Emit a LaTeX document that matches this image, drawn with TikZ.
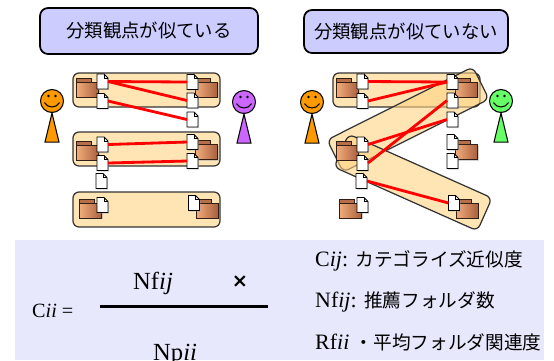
\documentclass[tikz,border=0pt]{standalone}
\usepackage{fontspec}
\setmainfont{Liberation Serif}
\newfontfamily\jp[Scale=0.85]{Noto Sans CJK JP}
\newfontfamily\symf{DejaVu Sans}
\usetikzlibrary{shadows}

\definecolor{titlefill}{RGB}{204,204,255}
\definecolor{panelfill}{RGB}{232,232,252}
\definecolor{groupfill}{RGB}{255,210,130}
\definecolor{folderlight}{RGB}{242,172,122}
\definecolor{folderdark}{RGB}{168,96,62}
\definecolor{folderedge}{RGB}{50,30,20}
\definecolor{faceorange}{RGB}{255,153,0}
\definecolor{facepurple}{RGB}{204,102,255}
\definecolor{facegreen}{RGB}{102,255,102}

% document icon: name, x, y
\newcommand{\docicon}[3]{%
  \node[docnode] (#1) at (#2,#3) {};
  \draw[fill=white, line width=0.5pt, drop shadow={shadow xshift=0.6pt, shadow yshift=-0.6pt, fill=black!35}]
    (#1.south west) -- (#1.north west) -- ([xshift=-0.08cm]#1.north east)
    -- ([yshift=-0.08cm]#1.north east) -- (#1.south east) -- cycle;
  \draw[line width=0.4pt] ([xshift=-0.08cm]#1.north east) |- ([yshift=-0.08cm]#1.north east);
}

% folder icon: name, x, y
\newcommand{\foldericon}[3]{%
  \node[foldnode] (#1) at (#2,#3) {};
  \draw[draw=folderedge, line width=0.5pt, fill=folderdark!80!folderlight]
    (#1.north west) rectangle ([xshift=-0.14cm, yshift=-0.09cm]#1.north east);
  \draw[draw=folderedge, line width=0.5pt, left color=folderlight, right color=folderdark,
    drop shadow={shadow xshift=0.6pt, shadow yshift=-0.6pt, fill=black!35}]
    (#1.south west) rectangle ([yshift=-0.08cm]#1.north east);
}

% stick figure: name, x, y, colour
\newcommand{\person}[4]{%
  \node[face, fill=#4] (#1) at (#2,#3) {};
  \draw[fill=#4, line width=0.6pt] (#1.south) -- ([shift={(-7,29)}]#1.south)
    -- ([shift={(7,29)}]#1.south) -- cycle;
  \fill ([shift={(-3.5,-5)}]#1.center) circle (1.4);
  \fill ([shift={(3.5,-5)}]#1.center) circle (1.4);
  \draw[line width=0.6pt] ([shift={(-7.5,1.5)}]#1.center) .. controls +(3,6) and +(-3,6) .. ([shift={(7.5,1.5)}]#1.center);
}

\begin{document}
\begin{tikzpicture}[x=0.02cm, y=-0.02cm,
  titlebox/.style={draw, line width=1pt, fill=titlefill, rounded corners=0.16cm, font=\fontsize{12.3}{14}\selectfont\jp},
  grp/.style={draw=black!80, line width=0.7pt, fill=groupfill, fill opacity=0.6, rounded corners=0.12cm, inner sep=0pt},
  docnode/.style={minimum width=0.22cm, minimum height=0.3cm, inner sep=0pt, outer sep=0pt},
  foldnode/.style={minimum width=0.44cm, minimum height=0.38cm, inner sep=0pt, outer sep=0pt},
  face/.style={circle, draw, line width=0.6pt, minimum size=0.46cm, inner sep=0pt},
  link/.style={red, line width=1.6pt},
  big/.style={font=\fontsize{14}{16}\selectfont},
  lbl/.style={anchor=base west, font=\fontsize{12.5}{15}\selectfont}]

\useasboundingbox (0,0) rectangle (554,360);

% Formula panel
\fill[panelfill] (15,240) rectangle (544,360);

% Titles
\node[titlebox, minimum width=4.36cm, minimum height=0.92cm] (simtitle) at (149,31) {分類観点が似ている};
\node[titlebox, minimum width=4.08cm, minimum height=0.86cm] (distitle) at (406,31.5) {分類観点が似ていない};

% Groups
\node[grp, minimum width=2.94cm, minimum height=0.68cm] (sgrpa) at (146.5,90) {};
\node[grp, minimum width=2.94cm, minimum height=0.68cm] (sgrpb) at (146.5,149) {};
\node[grp, minimum width=2.94cm, minimum height=0.70cm] (sgrpc) at (146.5,209.5) {};
\node[grp, minimum width=2.94cm, minimum height=0.68cm] (dgrpa) at (406.5,90) {};
\node[grp, minimum width=3.26cm, minimum height=0.72cm, rotate=26.6] (dgrpb) at (408,119.5) {};
\node[grp, minimum width=3.14cm, minimum height=0.72cm, rotate=-24] (dgrpc) at (413,182.5) {};

% Folders and documents, same layout in both panels
\foreach \p/\dx in {s/0, d/260} {
  \foldericon{\p fla}{87.5+\dx}{87.5}
  \foldericon{\p fra}{206.5+\dx}{87.5}
  \foldericon{\p flb}{87.5+\dx}{150.5}
  \foldericon{\p frb}{206.5+\dx}{150}
  \foldericon{\p flc}{90.5+\dx}{208.5}
  \foldericon{\p frc}{207+\dx}{208.5}
  \docicon{\p la1}{102.5+\dx}{81.5}
  \docicon{\p la2}{102.5+\dx}{101}
  \docicon{\p ra1}{192.5+\dx}{82}
  \docicon{\p ra2}{192.5+\dx}{100.5}
  \docicon{\p ra3}{192.5+\dx}{119.5}
  \docicon{\p lb1}{102.5+\dx}{144.5}
  \docicon{\p lb2}{102.5+\dx}{163}
  \docicon{\p lb3}{101.5+\dx}{181}
  \docicon{\p rb1}{192.5+\dx}{142}
  \docicon{\p rb2}{192.5+\dx}{161}
  \docicon{\p lc1}{102.5+\dx}{205}
  \docicon{\p rc1}{194+\dx}{203}
}

% People
\person{sleft}{52}{101}{faceorange}
\person{sright}{244}{102}{facepurple}
\person{dleft}{312}{102}{faceorange}
\person{dright}{501}{101}{facegreen}

% Links
\draw[link] (sla1.east) -- (sra1.west);
\draw[link] (sla1.east) -- (sra2.west);
\draw[link] (sla2.east) -- (sra3.west);
\draw[link] (slb1.east) -- (srb1.west);
\draw[link] (slb2.east) -- (srb2.west);
\draw[link] (dla1.east) -- (dra1.west);
\draw[link] (dla2.east) -- (dra1.west);
\draw[link] (dlb1.east) -- (dra3.west);
\draw[link] (dlb2.east) -- (dra2.west);
\draw[link] (dlb3.east) -- (drc1.west);

% Formula
\node[anchor=base west, font=\fontsize{11.5}{13}\selectfont] (cval) at (26,317) {C\textit{ii} =};
\node[big, anchor=base west] (nf) at (127,289) {Nf\textit{ij}};
\node[font=\fontsize{11}{12}\selectfont\symf\bfseries] (times) at (240,282) {×};
\coordinate (fracl) at (100,306);
\coordinate (fracr) at (268,306);
\draw[line width=1.7pt] (fracl) -- (fracr);
\node[big, anchor=base west] (np) at (147,360) {Np\textit{ii}};

% Legend
\node[lbl] (lc) at (309,266) {C\textit{ij}: {\jp カテゴライズ近似度}};
\node[lbl] (ln) at (309,307) {Nf\textit{ij}: {\jp 推薦フォルダ数}};
\node[lbl] (lr) at (309,349) {Rf\textit{ii} {\jp ・平均フォルダ関連度}};

\end{tikzpicture}
\end{document}
